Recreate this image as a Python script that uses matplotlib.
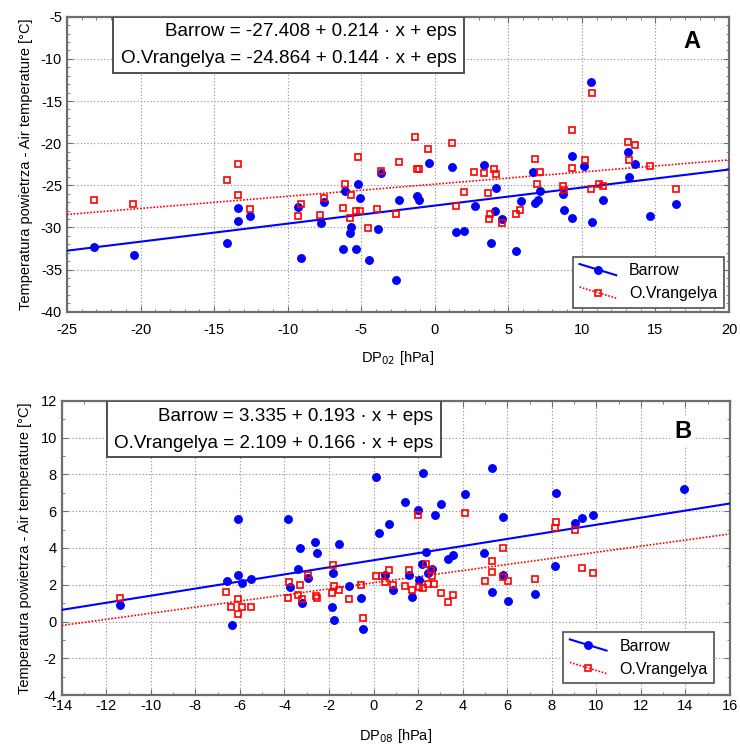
import numpy as np
import matplotlib
matplotlib.use('Agg')
import matplotlib.pyplot as plt
from matplotlib.lines import Line2D
from matplotlib.patches import Rectangle
from matplotlib.legend_handler import HandlerLine2D
from matplotlib.ticker import MultipleLocator

plt.rcParams['font.family'] = ['Liberation Sans', 'DejaVu Sans']
plt.rcParams['axes.unicode_minus'] = False

# ---- panel A: DP02 ----
a_barrow_x = [-23.14, -20.43, -14.10, -13.37, -13.37, -12.53, -9.30, -9.12, -7.53, -7.76,
              -6.24, -6.13, -5.68, -5.77, -5.36, -5.23, -5.11, -4.50, -3.87, -3.64,
              -2.65, -2.40, -1.24, -1.10, -0.41, 1.15, 1.43, 2.02, 2.71, 3.35,
              4.19, 4.10, 3.82, 4.59, 5.52, 5.84, 6.70, 6.81, 6.99, 7.15,
              8.69, 8.76, 9.31, 9.33, 10.16, 10.64, 10.66, 11.45, 13.13, 13.22,
              13.60, 14.64, 16.41]
a_barrow_y = [-32.38, -33.25, -31.8, -27.7, -29.2, -28.6, -27.6, -33.6, -27.0, -29.5,
              -32.5, -25.7, -30.0, -30.7, -32.5, -24.8, -26.5, -33.9, -30.2, -23.5,
              -36.2, -26.8, -26.3, -26.75, -22.4, -22.8, -30.6, -30.4, -27.4, -22.6,
              -25.3, -28.0, -31.9, -29.0, -32.8, -26.9, -23.4, -27.1, -26.7, -25.7,
              -26.0, -27.9, -21.5, -28.9, -22.7, -12.7, -29.3, -26.75, -21.1, -24.0,
              -22.5, -28.6, -27.2]
a_vrang_x = [-23.14, -20.48, -14.12, -13.37, -13.37, -12.53, -9.30, -9.12, -7.78, -7.51,
             -6.27, -6.13, -5.68, -5.75, -5.38, -5.11, -5.23, -4.53, -3.90, -3.67,
             -2.40, -2.65, -1.34, -1.24, -1.10, -0.43, 1.18, 1.43, 2.02, 2.69,
             3.33, 3.65, 4.05, 4.14, 3.78, 3.67, 4.59, 5.52, 5.81, 6.81,
             7.13, 6.95, 8.69, 8.76, 9.31, 9.31, 10.19, 10.66, 10.64, 11.14,
             11.42, 13.11, 13.60, 13.22, 14.64, 16.43]
a_vrang_y = [-26.75, -27.2, -24.4, -22.5, -26.2, -27.8, -28.7, -27.2, -28.5, -26.5,
             -27.7, -24.9, -26.2, -28.9, -28.1, -28.1, -21.6, -30.1, -27.8, -23.3,
             -22.2, -28.4, -19.3, -23.1, -23.1, -20.75, -20.0, -27.4, -25.8, -23.4,
             -23.6, -25.95, -23.1, -23.7, -28.4, -29.05, -29.5, -28.4, -27.9, -21.9,
             -23.4, -24.9, -25.1, -25.5, -18.4, -23.0, -22.0, -14.0, -25.4, -24.9,
             -25.1, -19.9, -20.2, -22.0, -22.7, -25.4]
a_coef_barrow = (-27.408, 0.214)
a_coef_vrang = (-24.864, 0.144)

# ---- panel B: DP08 ----
b_barrow_x = [-11.38, -6.59, -6.07, -6.07, -5.92, -5.52, -6.37, -3.86, -3.30, -3.39,
              -3.75, -3.23, -2.96, -2.63, -2.54, -1.54, -1.84, -1.85, -1.76, -1.09,
              -0.56, -0.46, 0.11, 0.26, 0.68, 0.53, 0.89, 1.42, 2.00, 2.24,
              1.60, 1.72, 2.05, 2.34, 2.17, 2.43, 2.61, 2.74, 3.02, 3.34,
              3.56, 4.11, 4.96, 5.31, 5.31, 5.82, 5.79, 6.04, 7.26, 8.17,
              8.14, 9.02, 9.37, 9.86, 13.92]
b_barrow_y = [0.88, 2.20, 5.60, 2.53, 2.11, 2.33, -0.19, 5.60, 4.02, 2.84,
              1.90, 0.99, 2.39, 4.31, 3.73, 4.22, 2.62, 0.81, 0.10, 1.93,
              1.30, -0.39, 7.85, 4.80, 5.32, 2.51, 1.71, 6.52, 6.07, 8.10,
              2.55, 1.31, 2.26, 3.80, 3.15, 2.66, 2.86, 5.81, 6.39, 3.40,
              3.60, 6.94, 3.75, 8.34, 1.61, 5.70, 2.51, 1.10, 1.51, 7.01,
              3.04, 5.34, 5.61, 5.81, 7.21]
b_vrang_x = [-11.38, -6.62, -6.10, -6.38, -5.92, -6.07, -5.52, -3.78, -3.86, -3.40,
             -3.30, -3.20, -2.96, -2.60, -2.54, -1.84, -1.78, -1.54, -1.85, -1.09,
             -0.56, -0.46, 0.09, 0.36, 0.53, 0.69, 0.89, 1.42, 1.60, 1.72,
             2.00, 2.05, 2.21, 2.34, 2.46, 2.58, 2.60, 2.73, 3.01, 3.36,
             3.56, 4.11, 4.99, 5.31, 5.31, 5.82, 5.82, 6.04, 7.26, 8.17,
             8.15, 9.02, 9.37, 9.86]
b_vrang_y = [1.30, 1.61, 1.24, 0.81, 0.81, 0.41, 0.81, 2.13, 1.30, 1.42,
             1.99, 1.22, 2.51, 1.39, 1.28, 3.06, 1.91, 1.70, 1.53, 1.22,
             1.99, 0.19, 2.49, 2.49, 2.17, 2.82, 1.99, 1.93, 2.82, 1.71,
             5.81, 1.90, 1.80, 3.13, 2.02, 2.78, 2.49, 2.02, 1.53, 1.04,
             1.42, 5.90, 2.22, 3.31, 2.69, 4.02, 2.42, 2.20, 2.33, 5.41,
             5.09, 4.98, 2.91, 2.64]
b_coef_barrow = (3.335, 0.193)
b_coef_vrang = (2.109, 0.166)

BLUE = '#0000ff'
RED = '#ff0000'
FRAME = '#6e6e6e'


class DiagHandler(HandlerLine2D):
    # Statistica style legend key: slanted line with the marker in the middle
    def create_artists(self, legend, orig_handle, xdescent, ydescent,
                       width, height, fontsize, trans):
        x0, x1 = -xdescent, -xdescent + width
        y0, y1 = -ydescent + height, -ydescent
        line = Line2D([x0, x1], [y0, y1])
        self.update_prop(line, orig_handle, legend)
        line.set_marker('None')
        mk = Line2D([(x0 + x1) / 2], [(y0 + y1) / 2])
        self.update_prop(mk, orig_handle, legend)
        mk.set_linestyle('None')
        line.set_transform(trans)
        mk.set_transform(trans)
        return [line, mk]


def draw_panel(ax, bx, by, vx, vy, cb, cv, xlim, ylim, xmaj, ymaj, xlab,
               eq_lines, box, txt_pos, letter, letter_pos, leg_anchor, tick_pad):
    ax.set_xlim(*xlim)
    ax.set_ylim(*ylim)
    xs = np.array(xlim)
    ax.plot(xs, cb[0] + cb[1] * xs, color=BLUE, lw=1.5, zorder=3)
    ax.plot(xs, cv[0] + cv[1] * xs, color=RED, lw=1.2, ls=(0, (1, 1)), zorder=3)
    ax.plot(bx, by, 'o', color=BLUE, ms=5.4, mec=BLUE, zorder=4)
    ax.plot(vx, vy, 's', color=RED, ms=4.6, mfc='none', mec=RED, mew=1.2, zorder=5)

    ax.xaxis.set_major_locator(MultipleLocator(xmaj))
    ax.yaxis.set_major_locator(MultipleLocator(ymaj))
    ax.xaxis.set_minor_locator(MultipleLocator(xmaj / (5 if xmaj == 5 else 2)))
    ax.yaxis.set_minor_locator(MultipleLocator(ymaj / (5 if ymaj == 5 else 2)))
    ax.grid(True, which='major', ls=(0, (1, 2)), color='#8c8c8c', lw=0.8)
    ax.tick_params(which='both', direction='in', top=True, right=True,
                   color=FRAME, labelsize=10.5)
    ax.tick_params(which='major', length=4)
    ax.tick_params(which='minor', length=2.5)
    ax.tick_params(axis='x', pad=tick_pad)
    for s in ax.spines.values():
        s.set_color(FRAME)
        s.set_linewidth(1.6)
    ax.set_xlabel(xlab, fontsize=10.5)
    ax.set_ylabel('Temperatura powietrza - Air temperature [°C]', fontsize=10.5, labelpad=6)

    ax.add_patch(Rectangle((box[0], box[1]), box[2] - box[0], 1 - box[1],
                           transform=ax.transAxes, facecolor='white',
                           edgecolor='#505050', lw=1.4, zorder=6))
    for (t, yy) in zip(eq_lines, txt_pos[1]):
        ax.text(txt_pos[0], yy, t, transform=ax.transAxes, ha='right', va='center',
                fontsize=13.6, zorder=7)
    ax.text(letter_pos[0], letter_pos[1], letter, transform=ax.transAxes,
            ha='center', va='center', fontsize=17, fontweight='bold', zorder=7,
            bbox=dict(facecolor='white', edgecolor='none', pad=2))

    hb = Line2D([], [], color=BLUE, lw=1.5, marker='o', ms=5.4)
    hv = Line2D([], [], color=RED, lw=1.2, ls=(0, (1, 1)), marker='s', ms=4.6,
                mfc='none', mec=RED, mew=1.2)
    leg = ax.legend([hb, hv], ['Barrow', 'O.Vrangelya'], loc='lower right',
                    bbox_to_anchor=leg_anchor, bbox_transform=ax.transAxes,
                    borderaxespad=0, fancybox=False, framealpha=1,
                    edgecolor='#505050', fontsize=11.5, handlelength=2.3,
                    handler_map={Line2D: DiagHandler()})
    leg.get_frame().set_linewidth(1.2)
    leg.set_zorder(8)


fig = plt.figure(figsize=(7.4, 7.47), dpi=100)
axA = fig.add_axes([0.0905, 0.5827, 0.8946, 0.3949])
axB = fig.add_axes([0.0834, 0.0696, 0.9031, 0.3936])

draw_panel(axA, a_barrow_x, a_barrow_y, a_vrang_x, a_vrang_y, a_coef_barrow, a_coef_vrang,
           (-25, 20), (-40, -5), 5, 5, 'DP$_{02}$ [hPa]',
           ['Barrow = -27.408 + 0.214 · x + eps', 'O.Vrangelya = -24.864 + 0.144 · x + eps'],
           (0.0695, 0.81, 0.5997), (0.589, (0.951, 0.858)),
           'A', (0.944, 0.915), (0.992, 0.014), 8)
draw_panel(axB, b_barrow_x, b_barrow_y, b_vrang_x, b_vrang_y, b_coef_barrow, b_coef_vrang,
           (-14, 16), (-4, 12), 2, 2, 'DP$_{08}$ [hPa]',
           ['Barrow = 3.335 + 0.193 · x + eps', 'O.Vrangelya = 2.109 + 0.166 · x + eps'],
           (0.0673, 0.8095, 0.567), (0.556, (0.947, 0.856)),
           'B', (0.930, 0.896), (0.976, 0.041), 3)

axA.xaxis.labelpad = 9
axB.xaxis.labelpad = 10

fig.savefig('out.png', dpi=100)
